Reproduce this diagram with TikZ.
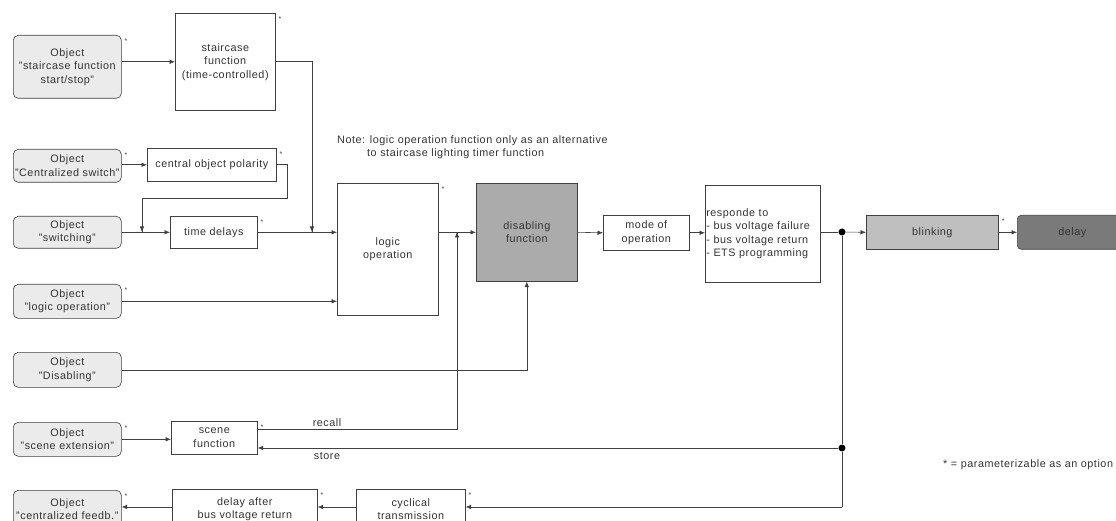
\documentclass[tikz,border=0pt]{standalone}
\usepackage{fontspec}
\setmainfont{Liberation Sans}[LetterSpace=5]
\usetikzlibrary{arrows.meta}
\tikzset{
  base/.style={draw=black!75, line width=0.6pt, anchor=north west, inner sep=1pt,
    font=\fontsize{10.8}{13.5}\selectfont, text=black!80, align=center},
  objbox/.style={base, rounded corners=5pt, fill=black!8, minimum width=108pt},
  fbox/.style={base, fill=white},
  arr/.style={line width=0.6pt, draw=black!75, -{Latex[length=5.5pt,width=4.5pt]}},
  ln/.style={line width=0.6pt, draw=black!75},
  starlbl/.style={font=\fontsize{7}{7}\selectfont, inner sep=0pt, text=black!75},
  lbl/.style={font=\fontsize{10.8}{13.5}\selectfont, text=black!80, inner sep=0pt},
  dotn/.style={circle, fill=black, inner sep=0pt, minimum size=7pt}
}
\begin{document}
\begin{tikzpicture}[x=1pt,y=-1pt]
\useasboundingbox (0,0) rectangle (1116,521);
% objects (left column)
\node[objbox, minimum height=63pt] (o1) at (13,35) {Object\\"staircase function\\start/stop"};
\node[objbox, minimum height=33pt] (o2) at (13,149) {Object\\"Centralized switch"};
\node[objbox, minimum height=32pt] (o3) at (13,216) {Object\\"switching"};
\node[objbox, minimum height=34pt] (o4) at (13,284) {Object\\"logic operation"};
\node[objbox, minimum height=35pt] (o5) at (13,352) {Object\\"Disabling"};
\node[objbox, minimum height=34pt] (o6) at (13,422) {Object\\"scene extension"};
\node[objbox, minimum height=38pt] (o7) at (13,490) {Object\\"centralized feedb."};
% function boxes
\node[fbox, minimum width=100pt, minimum height=97pt] (sf) at (175,13) {staircase\\function\\(time-controlled)};
\node[fbox, minimum width=129pt, minimum height=33pt] (cp) at (147,148) {central object polarity};
\node[fbox, minimum width=87pt, minimum height=32pt] (td) at (170,216) {time delays};
\node[fbox, minimum width=101pt, minimum height=132pt] (lo) at (337,183) {logic\\operation};
\node[fbox, fill=black!33, minimum width=101pt, minimum height=98pt] (df) at (476,183) {disabling\\function};
\node[fbox, minimum width=86pt, minimum height=35pt] (mo) at (603,215) {mode of\\operation};
\node[fbox, text width=113pt, minimum height=97pt, align=left] (rs) at (705,185) {responde to\\- bus voltage failure\\- bus voltage return\\- ETS programming};
\node[fbox, fill=black!25, minimum width=132pt, minimum height=34pt] (bl) at (866,215) {blinking};
\node[fbox, fill=black!52, rounded corners=4pt, minimum width=110pt, minimum height=34pt] (dl) at (1017,215) {delay};
\node[fbox, minimum width=86pt, minimum height=33pt] (sc) at (171,421) {scene\\function};
\node[fbox, minimum width=145pt, minimum height=40pt] (da) at (172,489) {delay after\\bus voltage return};
\node[fbox, minimum width=109pt, minimum height=40pt] (ct) at (356,489) {cyclical\\transmission};
% stars
\foreach \n in {o1,o2,o4,o6,o7,sf,cp,td,lo,sc,da,ct,bl}
  \node[starlbl] at ([xshift=4.5pt,yshift=-6pt]\n.north east) {*};
% junctions
\coordinate (j0) at (142,232);
\coordinate (j1) at (312,232);
\coordinate (jr) at (457,232);
\node[dotn] (d1) at (842,232) {};
\node[dotn] (d2) at (842,448) {};
\coordinate (d3) at (842,507);
% connectors
\draw[arr] (o1.east |- sf.west) -- (sf.west);
\draw[arr] (o2.east |- cp.west) -- (cp.west);
\draw[ln] (cp.east) -- ++(11,0) -- ++(0,34) -| (j0);
\draw[arr] ([yshift=34pt]j0) -- (j0);
\draw[arr] (o3.east) -- (td.west);
\draw[ln] (sf.east) -| (j1);
\draw[arr] ([yshift=20pt]j1) -- (j1);
\draw[arr] (td.east) -- (lo.west |- td.east);
\draw[arr] (o4.east) -- (lo.west |- o4.east);
\draw[arr] (o5.east) -| (df.south);
\draw[arr] (lo.east |- df.west) -- (df.west);
\draw[ln] ([yshift=8.5pt]sc.east) -| (jr);
\draw[arr] ([yshift=-30pt]jr) -- (jr);
\draw[arr] (o6.east) -- (sc.west |- o6.east);
\draw[arr] (df.east) -- (mo.west);
\draw[arr] (mo.east) -- (rs.west |- mo.east);
\draw[ln] (rs.east |- d1) -- (d1);
\draw[arr] (d1) -- (bl.west);
\draw[arr] (bl.east) -- (dl.west);
\draw[ln] (d1) -- (d2) -- (d3);
\draw[arr] (d2) -- (sc.east |- d2);
\draw[arr] (d3) -- (ct.east |- d3);
\draw[arr] (ct.west |- d3) -- (da.east |- d3);
\draw[arr] (da.west |- d3) -- (o7.east |- d3);
% labels
\node[lbl, anchor=south] (lrecall) at (327,427) {recall};
\node[lbl, anchor=north] (lstore) at (327,452) {store};
\node[lbl, anchor=north west, align=left] (note) at (337,135) {Note: logic operation function only as an alternative\\\hspace*{30pt}to staircase lighting timer function};
\node[lbl, anchor=west] (foot) at (943,465) {* = parameterizable as an option};
\end{tikzpicture}
\end{document}
